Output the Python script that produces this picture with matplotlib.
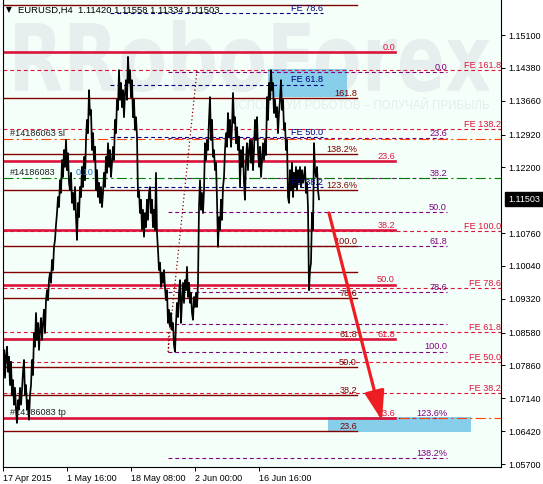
import numpy as np
import matplotlib.pyplot as plt
from matplotlib.patches import Rectangle, PathPatch, FancyArrowPatch
from matplotlib.textpath import TextPath
from matplotlib.font_manager import FontProperties
from matplotlib.transforms import Affine2D, blended_transform_factory

plt.rcParams['font.family'] = ['Liberation Sans', 'DejaVu Sans']

# EURUSD H4 path, one value per bar
price_a = [1.0787, 1.0820, 1.0759, 1.0809, 1.0827, 1.0772, 1.0805, 1.0743, 1.0794, 1.0721,
           1.0754, 1.0700, 1.0737, 1.0689, 1.0660, 1.0710, 1.0689, 1.0737, 1.0700, 1.0732,
           1.0772, 1.0798, 1.0721, 1.0743, 1.0689, 1.0710, 1.0667, 1.0721, 1.0743, 1.0798,
           1.0765, 1.0857, 1.0827, 1.0901, 1.0842, 1.0879, 1.0820, 1.0864, 1.0890, 1.0842,
           1.0879, 1.0908, 1.0857, 1.0929, 1.0951, 1.0929, 1.0973, 1.0989, 1.0967, 1.1017,
           1.0995, 1.1046, 1.1061, 1.1094, 1.1120, 1.1155, 1.1133, 1.1192, 1.1164, 1.1236,
           1.1199, 1.1258, 1.1221, 1.1280, 1.1214, 1.1251, 1.1186, 1.1170, 1.1208, 1.1142,
           1.1164, 1.1127, 1.1177, 1.1111, 1.1061, 1.1142, 1.1111, 1.1177, 1.1155, 1.1221,
           1.1177, 1.1243]
price_b = [1.1192, 1.1280, 1.1324, 1.1295, 1.1389, 1.1335, 1.1346, 1.1258, 1.1295, 1.1236,
           1.1265, 1.1170, 1.1214, 1.1155, 1.1186, 1.1142, 1.1177, 1.1133, 1.1164, 1.1208,
           1.1177, 1.1243, 1.1208, 1.1273, 1.1221, 1.1258, 1.1199, 1.1230, 1.1265, 1.1236,
           1.1324, 1.1295, 1.1368, 1.1346, 1.1433, 1.1368, 1.1405, 1.1352, 1.1389, 1.1330,
           1.1383, 1.1411, 1.1368, 1.1462, 1.1405, 1.1433, 1.1374, 1.1411, 1.1330, 1.1368,
           1.1302, 1.1330, 1.1287, 1.1155, 1.1170, 1.1120, 1.1149, 1.1083, 1.1127, 1.1068,
           1.1120, 1.1089, 1.1149, 1.1105, 1.1164, 1.1177, 1.1120, 1.1149, 1.1089, 1.1127,
           1.1083, 1.1208, 1.1076, 1.1039, 1.0995, 1.1011, 1.0958, 1.0989, 1.0967, 1.0995,
           1.0956]
price_c = [1.0929, 1.0951, 1.0879, 1.0908, 1.0870, 1.0901, 1.0864, 1.0879, 1.0831, 1.0816,
           1.0879, 1.0923, 1.0892, 1.0945, 1.0973, 1.0879, 1.0929, 1.0967, 1.0923, 1.0973,
           1.0951, 1.1002, 1.0936, 1.0967, 1.0923, 1.0945, 1.0901, 1.0886, 1.0936, 1.0914,
           1.0945, 1.0914, 1.0967, 1.1133, 1.1192, 1.1127, 1.1164, 1.1120, 1.1170, 1.1273,
           1.1236, 1.1280, 1.1258, 1.1324, 1.1374, 1.1280, 1.1324, 1.1243, 1.1258, 1.1214,
           1.1230, 1.1149, 1.1046, 1.1111, 1.1083, 1.1149, 1.1105, 1.1177, 1.1199, 1.1258,
           1.1295, 1.1265, 1.1339, 1.1287, 1.1324, 1.1265, 1.1308, 1.1383, 1.1317, 1.1330,
           1.1273, 1.1308, 1.1258, 1.1287, 1.1177, 1.1258, 1.1221, 1.1265, 1.1186, 1.1149]
price_d = [1.1236, 1.1273, 1.1214, 1.1258, 1.1280, 1.1230, 1.1280, 1.1214, 1.1258, 1.1324,
           1.1280, 1.1330, 1.1258, 1.1221, 1.1265, 1.1199, 1.1236, 1.1273, 1.1236, 1.1280,
           1.1247, 1.1374, 1.1324, 1.1405, 1.1368, 1.1433, 1.1389, 1.1405, 1.1339, 1.1368,
           1.1330, 1.1352, 1.1295, 1.1339, 1.1368, 1.1411, 1.1346, 1.1368, 1.1302, 1.1317,
           1.1258, 1.1280, 1.1155, 1.1142, 1.1214, 1.1170, 1.1230, 1.1155, 1.1208, 1.1177,
           1.1221, 1.1170, 1.1214, 1.1186, 1.1221, 1.1177, 1.1214, 1.1186, 1.1199, 1.1221,
           1.1164, 1.1186, 1.1133, 1.0951, 1.0995, 1.1011, 1.1120, 1.1083, 1.1273, 1.1214,
           1.1199, 1.1221, 1.1170, 1.1150]

symbol_line = "EURUSD,H4  1.11420 1.11558 1.11334 1.11503"
last_price = 1.11503

date_ticks = [0, 64, 128, 192, 256]
date_labels = ["17 Apr 2015", "1 May 16:00", "18 May 08:00", "2 Jun 00:00", "16 Jun 16:00"]
price_ticks = [1.15100, 1.14380, 1.13660, 1.12920, 1.12200, 1.10760, 1.10040,
               1.09320, 1.08580, 1.07860, 1.07140, 1.06420, 1.05700]

# fibo grid 1 (thick crimson)
fibo_a = [1.1473, 1.1234, 1.1083, 1.0963, 1.0844, 1.0671]
fibo_a_labels = ["0.0", "23.6", "38.2", "50.0", "61.8", "23.6"]
# fibo grid 2 (maroon)
fibo_b = [1.1576, 1.1372, 1.1249, 1.1170, 1.1048, 1.0991, 1.0934, 1.0844, 1.0783, 1.0721, 1.0642]
fibo_b_labels = ["", "161.8", "138.2%", "123.6%", "100.0", "", "78.6", "61.8", "50.0", "38.2", "23.6"]
# fibo grid 3 (purple)
fibo_c = [1.1429, 1.1284, 1.1197, 1.1122, 1.1048, 1.0947, 1.0877, 1.0816, 1.0671, 1.0583]
fibo_c_labels = ["0.0", "23.6", "38.2", "50.0", "61.8", "78.6", "", "100.0", "123.6%", "138.2%"]
# expansions
fe_a = [1.1433, 1.1303, 1.1081, 1.0956, 1.0859, 1.0793, 1.0726]
fe_a_labels = ["FE 161.8", "FE 138.2", "FE 100.0", "FE 78.6", "FE 61.8", "FE 50.0", "FE 38.2"]
fe_b = [1.1558, 1.1401, 1.1287, 1.1177]
fe_b_labels = ["FE 78.6", "FE 61.8", "FE 50.0", "FE 38.2"]

order_sl = 1.1283
order_open = 1.1197
order_tp = 1.0671

# target zones: (bar from, bar to, low, high)
zones = [(265, 344, 1.1375, 1.1436), (325, 468, 1.0640, 1.0673)]
fibo_c_anchor = [(165, 1.0816), (194, 1.1433)]
forecast = [(326, 1.1120), (379, 1.0665)]

W, H = 543, 484
fig = plt.figure(figsize=(W / 100, H / 100), dpi=100, facecolor="white")
ax = fig.add_axes([2.5 / W, 17 / H, 498.5 / W, 467 / H])
ax.set_facecolor("#f5fffa")
ax.set_xlim(-0.5, 498)
ax.set_ylim(1.05635, 1.15867)

# watermark
wm = TextPath((0, 0), "RRoboForex", size=1, prop=FontProperties(family="DejaVu Sans", weight="bold"))
bb = wm.get_extents()
wm_tr = (Affine2D().translate(-bb.x0, -bb.y0).scale(0.953 / bb.width, 0.154 / bb.height)
         .translate(0.025, 0.803) + ax.transAxes)
ax.add_patch(PathPatch(wm, transform=wm_tr, color="#e6eeee", lw=0, zorder=0.5))
ax.text(0.978, 0.773, "ИСПОЛЬЗУЙ РОБОТОВ – ПОЛУЧАЙ ПРИБЫЛЬ", transform=ax.transAxes,
        ha="right", va="center", fontsize=8.3, color="#e3ecec", zorder=0.6)

for x0, x1, lo, hi in zones:
    ax.add_patch(Rectangle((x0, lo), x1 - x0, hi - lo, facecolor="#87ceeb", edgecolor="none", zorder=1))

dash = (0, (3.5, 2.6))
fs = 6.6


def levels(vals, labels, x0, x1, color, ls, lw, lab_color=None):
    for v, lab in zip(vals, labels):
        ax.plot([x0, x1], [v, v], color=color, ls=ls, lw=lw, zorder=2)
        if lab:
            ax.annotate(lab, (x1, v), xytext=(0, 0.2), textcoords="offset points",
                        ha="right", va="bottom", fontsize=fs, color=lab_color or color, zorder=4)


levels(fe_a, fe_a_labels, 0, 498, "#dc143c", dash, 0.8)
levels(fibo_c, fibo_c_labels, 165, 444, "#800080", dash, 0.8)
levels(fe_b, fe_b_labels, 107, 320, "#000080", dash, 0.8)
ax.plot([0, 498], [order_sl] * 2, color="#ff4500", ls=(0, (9, 3, 2, 3)), lw=0.8, zorder=2)
ax.plot([0, 498], [order_tp] * 2, color="#ff4500", ls=(0, (9, 3, 2, 3)), lw=0.8, zorder=2)
ax.plot([0, 498], [order_open] * 2, color="#008000", ls=(0, (9, 3, 2, 3)), lw=0.8, zorder=2)
levels(fibo_b, fibo_b_labels, 0, 354, "#800000", "-", 1.0)
levels(fibo_a, fibo_a_labels, 0, 392, "#dc143c", "-", 1.9)

(ax0, ay0), (ax1, ay1) = fibo_c_anchor
ax.plot([ax0, ax1], [ay0, ay1], color="#900000", ls=(0, (1, 2)), lw=0.9, zorder=2)
ax.plot([ax0, ax0], [ay0, fe_a[4]], color="#900000", ls=(0, (1, 2)), lw=0.9, zorder=2)

price = np.array(price_a + price_b + price_c + price_d)
ax.plot(np.arange(len(price)), price, color="black", lw=1.25, zorder=3)

for lab, v in [("#14186063 sl", order_sl), ("#14186083", order_open), ("#14186083 tp", order_tp)]:
    ax.annotate(lab, (7, v), xytext=(0, 0.5), textcoords="offset points",
                ha="left", va="bottom", fontsize=fs, color="#202020", zorder=4)
ax.annotate("0.10", (73, order_open), xytext=(0, 0.5), textcoords="offset points",
            ha="left", va="bottom", fontsize=fs, color="#1e78c8", zorder=4)

arrow = FancyArrowPatch(forecast[0], forecast[1], arrowstyle="-|>,head_length=18,head_width=6",
                        mutation_scale=1, lw=2.3, color="#ee1d23", shrinkA=0, shrinkB=0, zorder=5)
ax.add_patch(arrow)

# axes / ticks
for s in ["left", "bottom", "right"]:
    ax.spines[s].set_color("black")
    ax.spines[s].set_linewidth(0.8)
ax.spines["top"].set_visible(False)
ax.yaxis.tick_right()
ax.set_yticks(price_ticks)
ax.set_yticklabels(["%.5f" % t for t in price_ticks])
ax.set_xticks(date_ticks)
ax.set_xticklabels(date_labels)
for lbl in ax.get_xticklabels():
    lbl.set_horizontalalignment("left")
ax.tick_params(axis="both", direction="out", length=3, width=0.7, pad=2, labelsize=6.5, colors="black")

ax.text(1.0 + 7 / 498.5, last_price, "%.5f" % last_price,
        transform=blended_transform_factory(ax.transAxes, ax.transData),
        ha="left", va="center", fontsize=6.5, color="white", clip_on=False,
        bbox=dict(boxstyle="square,pad=0.3", facecolor="black", edgecolor="black"))

fig.text(6 / W, 1 - 10 / H, "▼", fontsize=5.5, va="center", family="DejaVu Sans")
fig.text(18 / W, 1 - 10 / H, symbol_line, fontsize=6.8, va="center")

fig.savefig("out.png", dpi=100, facecolor="white")
